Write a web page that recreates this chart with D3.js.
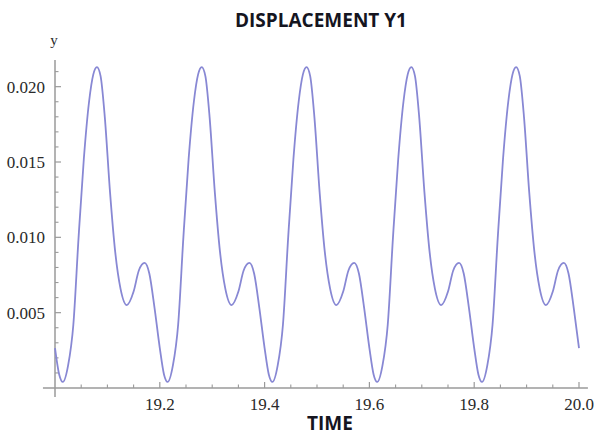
<!DOCTYPE html>
<html>
<head>
<meta charset="utf-8">
<script src="https://cdn.jsdelivr.net/npm/d3@7"></script>
<style>
  html, body { margin: 0; padding: 0; background: #fff; }
  svg { display: block; }
</style>
</head>
<body>
<script>
// ---- data ----
const chartTitle = "DISPLACEMENT Y1";
const xTitle = "TIME";
const yTitle = "y";

const time = [
  19.000, 19.008, 19.015, 19.025, 19.035, 19.045, 19.055, 19.065, 19.073, 19.080, 19.087, 19.095, 19.105, 19.115, 19.125, 19.137, 19.150, 19.160, 19.171, 19.180, 19.190,
  19.200, 19.208, 19.215, 19.225, 19.235, 19.245, 19.255, 19.265, 19.273, 19.280, 19.287, 19.295, 19.305, 19.315, 19.325, 19.337, 19.350, 19.360, 19.371, 19.380, 19.390,
  19.400, 19.408, 19.415, 19.425, 19.435, 19.445, 19.455, 19.465, 19.473, 19.480, 19.487, 19.495, 19.505, 19.515, 19.525, 19.537, 19.550, 19.560, 19.571, 19.580, 19.590,
  19.600, 19.608, 19.615, 19.625, 19.635, 19.645, 19.655, 19.665, 19.673, 19.680, 19.687, 19.695, 19.705, 19.715, 19.725, 19.737, 19.750, 19.760, 19.771, 19.780, 19.790,
  19.800, 19.808, 19.815, 19.825, 19.835, 19.845, 19.855, 19.865, 19.873, 19.880, 19.887, 19.895, 19.905, 19.915, 19.925, 19.937, 19.950, 19.960, 19.971, 19.980, 19.990,
  20.000
];

const displacement = [
  0.00265, 0.0009, 0.0004, 0.0015, 0.0042, 0.0100, 0.0152, 0.0190, 0.0208, 0.0213, 0.0207, 0.0180, 0.0130, 0.0090, 0.0066, 0.0055, 0.0064, 0.0078, 0.0083, 0.0076, 0.0053,
  0.00265, 0.0009, 0.0004, 0.0015, 0.0042, 0.0100, 0.0152, 0.0190, 0.0208, 0.0213, 0.0207, 0.0180, 0.0130, 0.0090, 0.0066, 0.0055, 0.0064, 0.0078, 0.0083, 0.0076, 0.0053,
  0.00265, 0.0009, 0.0004, 0.0015, 0.0042, 0.0100, 0.0152, 0.0190, 0.0208, 0.0213, 0.0207, 0.0180, 0.0130, 0.0090, 0.0066, 0.0055, 0.0064, 0.0078, 0.0083, 0.0076, 0.0053,
  0.00265, 0.0009, 0.0004, 0.0015, 0.0042, 0.0100, 0.0152, 0.0190, 0.0208, 0.0213, 0.0207, 0.0180, 0.0130, 0.0090, 0.0066, 0.0055, 0.0064, 0.0078, 0.0083, 0.0076, 0.0053,
  0.00265, 0.0009, 0.0004, 0.0015, 0.0042, 0.0100, 0.0152, 0.0190, 0.0208, 0.0213, 0.0207, 0.0180, 0.0130, 0.0090, 0.0066, 0.0055, 0.0064, 0.0078, 0.0083, 0.0076, 0.0053,
  0.00265
];

const xTicks = [19.2, 19.4, 19.6, 19.8, 20.0];
const xTickLabels = ["19.2", "19.4", "19.6", "19.8", "20.0"];
const xMinorTicks = [19.05, 19.1, 19.15, 19.25, 19.3, 19.35, 19.45, 19.5, 19.55, 19.65, 19.7, 19.75, 19.85, 19.9, 19.95];
const yTicks = [0.005, 0.010, 0.015, 0.020];
const yTickLabels = ["0.005", "0.010", "0.015", "0.020"];
const yMinorTicks = [0.001, 0.002, 0.003, 0.004, 0.006, 0.007, 0.008, 0.009, 0.011, 0.012, 0.013, 0.014, 0.016, 0.017, 0.018, 0.019, 0.021];

// ---- drawing ----
const W = 600, H = 435;
const svg = d3.select("body").append("svg").attr("width", W).attr("height", H);

const x = d3.scaleLinear().domain([19, 20]).range([55, 579]);
const y = d3.scaleLinear().domain([0, 0.02177]).range([388, 60]);

const axisColor = "#9a9a9a";
const labelColor = "#2a2a2a";

// axis lines
svg.append("line")
  .attr("x1", x(18.977)).attr("x2", x(20.017))
  .attr("y1", y(0)).attr("y2", y(0))
  .attr("stroke", axisColor).attr("stroke-width", 1.5);
svg.append("line")
  .attr("x1", x(19)).attr("x2", x(19))
  .attr("y1", y(-0.0006)).attr("y2", y(0.02177))
  .attr("stroke", axisColor).attr("stroke-width", 1.5);

// x ticks (pointing up)
svg.selectAll("line.xmaj").data(xTicks).enter().append("line")
  .attr("class", "xmaj")
  .attr("x1", d => x(d)).attr("x2", d => x(d))
  .attr("y1", y(0)).attr("y2", y(0) - 6)
  .attr("stroke", axisColor).attr("stroke-width", 1.2);
svg.selectAll("line.xmin").data(xMinorTicks).enter().append("line")
  .attr("class", "xmin")
  .attr("x1", d => x(d)).attr("x2", d => x(d))
  .attr("y1", y(0)).attr("y2", y(0) - 3.5)
  .attr("stroke", axisColor).attr("stroke-width", 1.1);

// y ticks (pointing right)
svg.selectAll("line.ymaj").data(yTicks).enter().append("line")
  .attr("class", "ymaj")
  .attr("x1", x(19)).attr("x2", x(19) + 6)
  .attr("y1", d => y(d)).attr("y2", d => y(d))
  .attr("stroke", axisColor).attr("stroke-width", 1.2);
svg.selectAll("line.ymin").data(yMinorTicks).enter().append("line")
  .attr("class", "ymin")
  .attr("x1", x(19)).attr("x2", x(19) + 3.5)
  .attr("y1", d => y(d)).attr("y2", d => y(d))
  .attr("stroke", axisColor).attr("stroke-width", 1.1);

// tick labels
svg.selectAll("text.xl").data(xTicks).enter().append("text")
  .attr("class", "xl")
  .attr("x", d => x(d)).attr("y", 410)
  .attr("text-anchor", "middle")
  .attr("font-family", "'Liberation Serif', 'DejaVu Serif', serif")
  .attr("font-size", 17)
  .attr("fill", labelColor)
  .text((d, i) => xTickLabels[i]);

svg.selectAll("text.yl").data(yTicks).enter().append("text")
  .attr("class", "yl")
  .attr("x", 45).attr("y", d => y(d))
  .attr("dy", "0.35em")
  .attr("text-anchor", "end")
  .attr("font-family", "'Liberation Serif', 'DejaVu Serif', serif")
  .attr("font-size", 17)
  .attr("fill", labelColor)
  .text((d, i) => yTickLabels[i]);

// y axis label
svg.append("text")
  .attr("x", 54).attr("y", 45)
  .attr("text-anchor", "middle")
  .attr("font-family", "'Liberation Serif', 'DejaVu Serif', serif")
  .attr("font-size", 15)
  .attr("fill", labelColor)
  .text(yTitle);

// curve
const line = d3.line()
  .x((d, i) => x(time[i]))
  .y((d, i) => y(displacement[i]))
  .curve(d3.curveMonotoneX);
svg.append("path")
  .datum(displacement)
  .attr("d", line)
  .attr("fill", "none")
  .attr("stroke", "#8888d4")
  .attr("stroke-width", 1.8)
  .attr("stroke-linejoin", "round");

// titles
svg.append("text")
  .attr("x", 321).attr("y", 27)
  .attr("text-anchor", "middle")
  .attr("font-family", "'Open Sans', 'Liberation Sans', sans-serif")
  .attr("font-weight", "bold")
  .attr("font-size", 19)
  .attr("fill", "#15151f")
  .text(chartTitle);

svg.append("text")
  .attr("x", 330).attr("y", 430)
  .attr("text-anchor", "middle")
  .attr("font-family", "'Open Sans', 'Liberation Sans', sans-serif")
  .attr("font-weight", "bold")
  .attr("font-size", 19)
  .attr("fill", "#15151f")
  .text(xTitle);
</script>
</body>
</html>
